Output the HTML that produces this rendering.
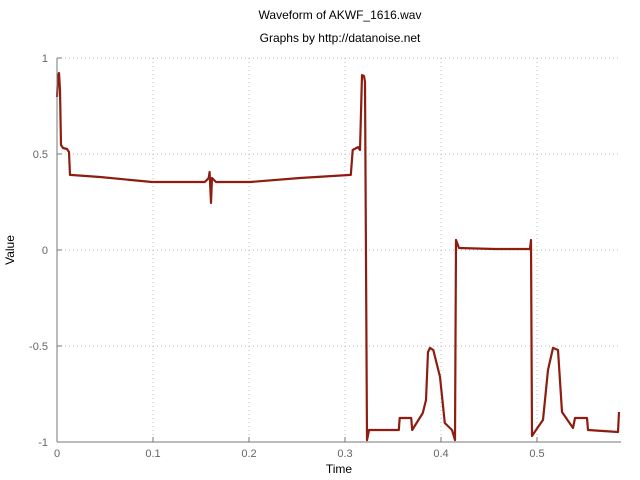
<!DOCTYPE html>
<html><head><meta charset="utf-8"><style>
body{margin:0;background:#fff}
svg{display:block;font-family:"Liberation Sans",sans-serif}
</style></head><body>
<svg id="c" width="640" height="480">
<text x="340" y="19" font-size="12" text-anchor="middle">Waveform of AKWF_1616.wav</text>
<text x="340" y="42" font-size="12" text-anchor="middle">Graphs by http://datanoise.net</text>
<text x="339" y="473" font-size="12" text-anchor="middle">Time</text>
<text transform="translate(14,250) rotate(-90)" font-size="12" text-anchor="middle">Value</text>
<g id="grid"></g><g id="ticks"></g>
<path id="wave" fill="none" stroke="#8e1c10" stroke-width="2.2" stroke-linejoin="round"/>
<line x1="57" y1="58" x2="57" y2="442" stroke="#777"/>
<line x1="57" y1="442" x2="621" y2="442" stroke="#777"/>
</svg>
<script>
const xTicks=[0,0.1,0.2,0.3,0.4,0.5];
const xTickLabels=["0","0.1","0.2","0.3","0.4","0.5"];
const yTicks=[1,0.5,0,-0.5,-1];
const yTickLabels=["1","0.5","0","-0.5","-1"];
const times=[0,0.001,0.0021,0.0031,0.0042,0.0063,0.0104,0.0125,0.0135,0.0448,0.099,0.154,0.158,0.159,0.1604,0.1615,0.1656,0.201,0.253,0.306,0.308,0.3135,0.3156,0.3177,0.3198,0.3208,0.3229,0.325,0.356,0.357,0.369,0.370,0.381,0.3844,0.3865,0.3885,0.392,0.399,0.404,0.4115,0.4146,0.4156,0.4188,0.456,0.4927,0.4938,0.4948,0.499,0.5063,0.5115,0.5167,0.5219,0.526,0.5375,0.5396,0.5521,0.5531,0.5844,0.5854];
const values=[0.797,0.906,0.922,0.833,0.547,0.531,0.526,0.51,0.391,0.38,0.354,0.354,0.375,0.406,0.245,0.375,0.354,0.354,0.375,0.391,0.521,0.536,0.521,0.911,0.906,0.875,-0.99,-0.9375,-0.9375,-0.875,-0.875,-0.9375,-0.849,-0.781,-0.531,-0.51,-0.521,-0.661,-0.901,-0.9375,-0.99,0.052,0.0104,0.005,0.005,0.052,-0.969,-0.9375,-0.885,-0.625,-0.51,-0.521,-0.844,-0.927,-0.875,-0.875,-0.9375,-0.948,-0.844];
const X=t=>57+t*960, Y=v=>250-v*192;
const NS="http://www.w3.org/2000/svg";
const grid=document.getElementById('grid'),ticks=document.getElementById('ticks');
function mk(tag,a,p){const e=document.createElementNS(NS,tag);for(const k in a)e.setAttribute(k,a[k]);p.appendChild(e);return e;}
xTicks.forEach((t,i)=>{
  if(t>0){const g=mk('line',{x1:X(t),y1:58,x2:X(t),y2:442,stroke:'#bbb','stroke-dasharray':'1,3'},grid);
  
  }
  const tk=mk('line',{x1:X(t),y1:442,x2:X(t),y2:437,stroke:'#777'},ticks);
  
  
  const l=mk('text',{x:X(t),y:457,'font-size':11,fill:'#666','text-anchor':'middle'},ticks);
  l.textContent=xTickLabels[i];
  
  
});
yTicks.forEach((v,i)=>{
  if(v>-1){const g=mk('line',{x1:57,y1:Y(v),x2:621,y2:Y(v),stroke:'#bbb','stroke-dasharray':'1,3'},grid);
  
  }
  const tk=mk('line',{x1:57,y1:Y(v),x2:62,y2:Y(v),stroke:'#777'},ticks);
  
  
  const l=mk('text',{x:48,y:Y(v)+4,'font-size':11,fill:'#666','text-anchor':'end'},ticks);
  l.textContent=yTickLabels[i];
  
  
});
document.getElementById('wave').setAttribute('d',times.map((t,i)=>(i?'L':'M')+X(t).toFixed(1)+','+Y(values[i]).toFixed(1)).join(''));
</script>
</body></html>
